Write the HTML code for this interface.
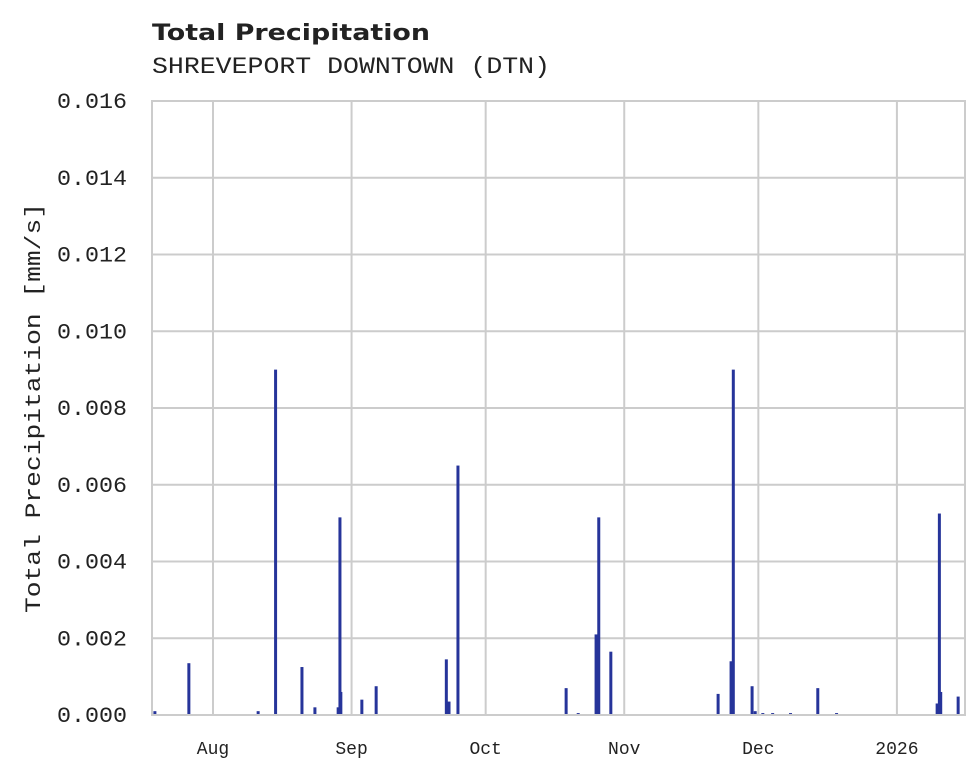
<!DOCTYPE html>
<html><head><meta charset="utf-8"><style>
body{margin:0;background:#fff}
svg{display:block}
</style></head><body>
<svg id="chart" width="980" height="780" xmlns="http://www.w3.org/2000/svg">
<text x="152" y="40" font-family="DejaVu Sans, Liberation Sans, sans-serif" font-weight="bold" font-size="22" fill="#222" textLength="278" lengthAdjust="spacingAndGlyphs">Total Precipitation</text>
<text x="152" y="73" font-family="Liberation Mono, monospace" font-size="23" fill="#222" textLength="398" lengthAdjust="spacingAndGlyphs">SHREVEPORT DOWNTOWN (DTN)</text>
<g id="grid"></g>
<g id="bars"></g>
<rect x="152" y="101" width="813" height="614" fill="none" stroke="#ccc" stroke-width="2"/>
<g id="labels"></g>
<text transform="translate(40,408) rotate(-90)" text-anchor="middle" font-family="Liberation Mono, monospace" font-size="22" fill="#222" textLength="410" lengthAdjust="spacingAndGlyphs">Total Precipitation [mm/s]</text>
</svg>
<script>
const yTicks=[0,0.002,0.004,0.006,0.008,0.010,0.012,0.014,0.016];
const yTickLabels=["0.000","0.002","0.004","0.006","0.008","0.010","0.012","0.014","0.016"];
const xTickDays=[0,31,61,92,122,153];
const xTickLabels=["Aug","Sep","Oct","Nov","Dec","2026"];
// day offsets from Aug 1
const barDays=[-13,-5.4,10.1,14,19.9,22.8,28,28.4,28.6,33.3,36.5,52.2,52.8,54.8,79,81.7,85.7,86.3,89,113,115.9,116.4,120.6,121.3,123,125.2,129.2,135.3,139.5,162,162.5,162.8,166.7];
const barValues=[0.0001,0.00135,0.0001,0.009,0.00125,0.0002,0.0002,0.00515,0.0006,0.0004,0.00075,0.00145,0.00035,0.0065,0.0007,0.00005,0.0021,0.00515,0.00165,0.00055,0.0014,0.009,0.00075,0.0001,0.00005,0.00005,0.00005,0.0007,0.00005,0.0003,0.00525,0.0006,0.00048];
const NS="http://www.w3.org/2000/svg";
const X0=152,X1=965,Y0=715,Y1=101;
const xs=d=>213+d*4.47;
const ys=v=>Y0-(v/0.016)*(Y0-Y1);
const grid=document.getElementById('grid'),bars=document.getElementById('bars'),labels=document.getElementById('labels');
function mk(t,a){const e=document.createElementNS(NS,t);for(const k in a)e.setAttribute(k,a[k]);return e;}
yTicks.forEach((v,i)=>{
  const l=mk('line',{x1:X0,x2:X1,y1:ys(v),y2:ys(v),stroke:'#ccc','stroke-width':2});
  
  
  grid.appendChild(l);
  const t=mk('text',{x:127,y:ys(v)+7,'text-anchor':'end','font-family':'Liberation Mono, monospace','font-size':22,fill:'#222',textLength:70,lengthAdjust:'spacingAndGlyphs'});
  t.textContent=yTickLabels[i];
  
  
  labels.appendChild(t);
});
xTickDays.forEach((d,i)=>{
  const l=mk('line',{x1:xs(d),x2:xs(d),y1:Y1,y2:Y0,stroke:'#ccc','stroke-width':2});
  
  
  grid.appendChild(l);
  const t=mk('text',{x:xs(d),y:754,'text-anchor':'middle','font-family':'Liberation Mono, monospace','font-size':18,fill:'#222'});
  t.textContent=xTickLabels[i];
  
  
  labels.appendChild(t);
});
barDays.forEach((d,i)=>{
  const y=ys(barValues[i]);
  const r=mk('rect',{x:xs(d)-1.5,y:y,width:3,height:Math.max(Y0-y,1.5),fill:'#26349a'});
  
  
  bars.appendChild(r);
});
</script>
</body></html>
